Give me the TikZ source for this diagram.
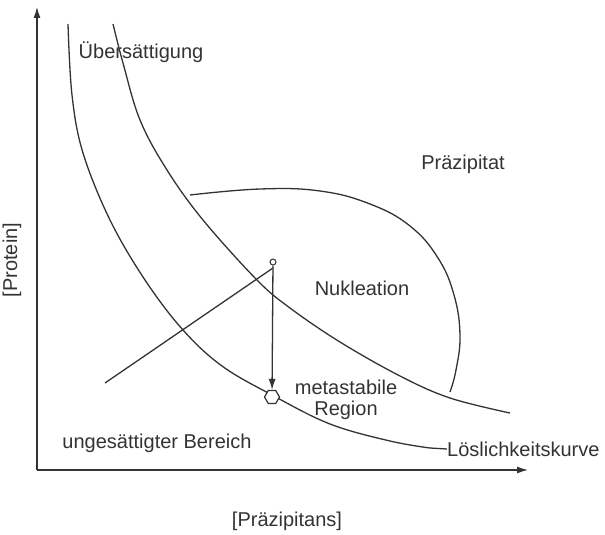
\documentclass[tikz,border=0pt]{standalone}
\usepackage{fontspec}
\setmainfont{Liberation Sans}
\usetikzlibrary{arrows.meta,shapes.geometric}
\definecolor{ink}{HTML}{333333}
\tikzset{
  curve/.style={line width=1.3pt,ink},
  lbl/.style={text=ink,font=\fontsize{20}{21}\selectfont,inner sep=0pt},
  axis/.style={line width=1.3pt,ink,-{Latex[length=11pt,width=7pt]}}
}
\begin{document}
\begin{tikzpicture}[x=1pt,y=-1pt]
                    \useasboundingbox (0,0) rectangle (605,535);
                    % axes
                    \coordinate (o) at (37,470);
                    \coordinate (ytop) at (37,7);
                    \coordinate (xend) at (528,470);
                    \draw [axis] (o) -- (ytop);
                    \draw [axis] (o) -- (xend);
                    \node [lbl] (xlab) at (287,521) {[Präzipitans]};
                    \node [lbl,rotate=90] (ylab) at (12,260) {[Protein]};
                    % labels of the regions
                    \node [lbl] (ueber) at (141,52) {Übersättigung};
                    \node [lbl] (praez) at (463,164) {Präzipitat};
                    \node [lbl] (nukl) at (362,288) {Nukleation};
                    \node [lbl,align=center] (meta) at (346,400) {metastabile\\Region};
                    \node [lbl] (unges) at (157,443) {ungesättigter Bereich};
                    \node [lbl,anchor=west] (loesl) at (447,449) {Löslichkeitskurve};
                    % solubility curve and supersaturation curve
                    \draw [curve] plot[smooth,tension=0.6] coordinates {(68,24) (72,95) (83,153) (110,220) (145,280) (183,330) (222,366) (272,395) (330,424) (390,441) (430,448)} -- (loesl.west);
                    \draw [curve] plot[smooth,tension=0.6] coordinates {(113,24) (123,63) (140,120) (167,170) (203,220) (257,280) (290,308) (340,342) (400,376) (450,398) (510,413)};
                    % boundary of the nucleation zone
                    \draw [curve] plot[smooth,tension=0.7] coordinates {(190,195) (260,189) (320,191) (370,204) (410,226) (438,258) (454,295) (460,335) (456,370) (450,392)};
                    % experiment path
                    \node [circle,draw=ink,line width=1pt,fill=white,minimum size=6pt,inner sep=0pt] (start) at (273,262) {};
                    \node [regular polygon,regular polygon sides=6,draw=ink,line width=1.2pt,fill=white,minimum size=15pt,inner sep=0pt] (end) at (272,397) {};
                    \coordinate (lstart) at (105,383);
                    \draw [curve] (lstart) -- (273,268);
                    \draw [curve,-{Latex[length=11pt,width=7pt]}] (start) -- (end);
                \end{tikzpicture}
\end{document}
